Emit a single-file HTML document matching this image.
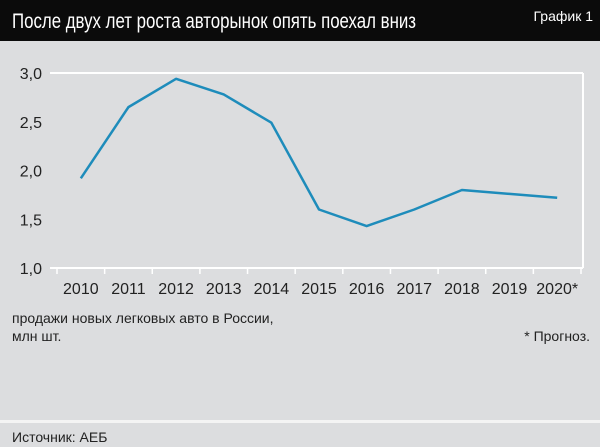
<!DOCTYPE html>
<html><head><meta charset="utf-8"><style>
body{margin:0;background:#dcdddf;}
svg{display:block;font-family:"Liberation Sans Narrow","Liberation Sans",sans-serif;}
</style></head><body>
<svg width="600" height="447" viewBox="0 0 600 447">
<rect x="0" y="0" width="600" height="447" fill="#dcdddf"/>
<rect x="0" y="0" width="600" height="41" fill="#0b0b0b"/>
<text x="12" y="28" fill="#fff" font-size="21" textLength="404" lengthAdjust="spacingAndGlyphs">После двух лет роста авторынок опять поехал вниз</text>
<text x="593" y="21" fill="#fff" font-size="14" text-anchor="end">График 1</text>
<g id="plot"></g>
<text x="12" y="323" font-size="14" fill="#222">продажи новых легковых авто в России,</text>
<text x="12" y="341" font-size="14" fill="#222">млн шт.</text>
<text x="590" y="341" font-size="14" fill="#222" text-anchor="end">* Прогноз.</text>
<rect x="0" y="420" width="600" height="3" fill="#f4f4f4"/>
<text x="12" y="442" font-size="14" fill="#222">Источник: АЕБ</text>
</svg>
<script>
const years=["2010","2011","2012","2013","2014","2015","2016","2017","2018","2019","2020*"];
const sales=[1.92,2.65,2.94,2.78,2.49,1.60,1.43,1.60,1.80,1.76,1.72];
const yTicks=[1.0,1.5,2.0,2.5,3.0];
const NS="http://www.w3.org/2000/svg";
const plotG=document.getElementById('plot');
const pL=57,pR=581,pT=73,pB=268,yMin=1,yMax=3;
const step=(pR-pL)/years.length;
const xs=i=>pL+step*(i+0.5);
const ys=v=>pB-(v-yMin)/(yMax-yMin)*(pB-pT);
function mk(t,a){const e=document.createElementNS(NS,t);for(const k in a)e.setAttribute(k,a[k]);plotG.appendChild(e);return e;}
let el=mk('line',{x1:pL-7,x2:pR+2,y1:ys(3),y2:ys(3),stroke:'#fff','stroke-width':2});


el=mk('line',{x1:pL-7,x2:pR+2,y1:ys(1),y2:ys(1),stroke:'#fff','stroke-width':2});


el=mk('line',{x1:pR+2,x2:pR+2,y1:ys(3),y2:ys(1),stroke:'#fff','stroke-width':2});


yTicks.forEach(v=>{
 const t=mk('text',{x:42,y:ys(v)+6,'font-size':16,'text-anchor':'end',fill:'#222'});
 t.textContent=v.toFixed(1).replace('.',',');
 
 
});
for(let i=0;i<=years.length;i++){
 const t=mk('line',{x1:pL+step*i,x2:pL+step*i,y1:ys(1),y2:ys(1)+6,stroke:'#fff','stroke-width':1.5});
 
 
}
years.forEach((yr,i)=>{
 const t=mk('text',{x:xs(i),y:294,'font-size':16,'text-anchor':'middle',fill:'#222'});
 t.textContent=yr;
 
 
});
const line=mk('polyline',{points:sales.map((v,i)=>xs(i)+','+ys(v)).join(' '),fill:'none',stroke:'#1e8cbb','stroke-width':2.5,'stroke-linejoin':'round'});


</script>
</body></html>
